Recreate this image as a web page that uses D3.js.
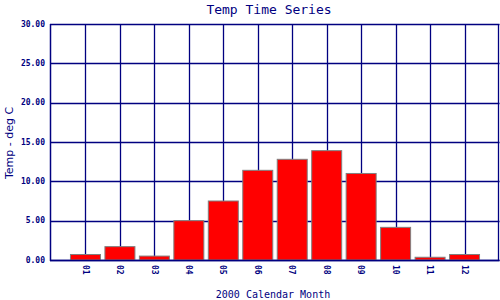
<!DOCTYPE html>
<html>
<head>
<meta charset="utf-8">
<script src="https://cdn.jsdelivr.net/npm/d3@7"></script>
<style>
  body { margin: 0; background: #fff; }
  svg { display: block; }
</style>
</head>
<body>
<div id="chart"></div>
<script>
const months = ["01", "02", "03", "04", "05", "06", "07", "08", "09", "10", "11", "12"];
const temps = [0.7, 1.7, 0.5, 5.0, 7.5, 11.4, 12.8, 13.9, 11.0, 4.15, 0.35, 0.7];
const yTicks = [0, 5, 10, 15, 20, 25, 30];

const width = 500;
const height = 300;
const navy = "#000080";

const svg = d3.select("#chart")
    .append("svg")
    .attr("width", width)
    .attr("height", height);

// x is linear over 0..13 so the months sit on 1..12
const x = d3.scaleLinear().domain([0, 13]).range([51, 499]);
const y = d3.scaleLinear().domain([0, 30]).range([260, 24]);
const barW = 30;

// horizontal grid
svg.append("g")
    .selectAll("line")
    .data(yTicks)
    .enter()
    .append("line")
    .attr("x1", 50)
    .attr("x2", 499.5)
    .attr("y1", d => Math.round(y(d)) + 0.5)
    .attr("y2", d => Math.round(y(d)) + 0.5)
    .attr("stroke", navy)
    .attr("stroke-width", 1.3);

// vertical grid at each month
svg.append("g")
    .selectAll("line")
    .data(months)
    .enter()
    .append("line")
    .attr("x1", (d, i) => Math.round(x(i + 1)) + 0.5)
    .attr("x2", (d, i) => Math.round(x(i + 1)) + 0.5)
    .attr("y1", y(30))
    .attr("y2", y(0))
    .attr("stroke", navy)
    .attr("stroke-width", 1.3);

// left and right frame lines
svg.append("line")
    .attr("x1", 50.5).attr("x2", 50.5)
    .attr("y1", y(30)).attr("y2", y(0) + 1)
    .attr("stroke", navy)
    .attr("stroke-width", 1.5);

svg.append("line")
    .attr("x1", 498.5).attr("x2", 498.5)
    .attr("y1", y(30)).attr("y2", y(0) + 1)
    .attr("stroke", navy)
    .attr("stroke-width", 1.3);

// bars
svg.append("g")
    .selectAll("rect")
    .data(temps)
    .enter()
    .append("rect")
    .attr("x", (d, i) => x(i + 1) - barW / 2)
    .attr("width", barW)
    .attr("y", d => y(d))
    .attr("height", d => y(0) - y(d))
    .attr("fill", "#ff0000")
    .attr("stroke", "#808080")
    .attr("stroke-width", 1);

// baseline on top of bars
svg.append("line")
    .attr("x1", 50).attr("x2", 499.5)
    .attr("y1", y(0) + 0.5).attr("y2", y(0) + 0.5)
    .attr("stroke", navy)
    .attr("stroke-width", 1.5);

// y tick labels
svg.append("g")
    .selectAll("text")
    .data(yTicks)
    .enter()
    .append("text")
    .attr("x", 45)
    .attr("y", d => y(d))
    .attr("dy", "0.35em")
    .attr("text-anchor", "end")
    .attr("font-family", "DejaVu Sans Mono, monospace")
    .attr("font-size", 8)
    .attr("font-weight", "bold")
    .attr("fill", navy)
    .text(d => d.toFixed(2));

// x tick labels, rotated to read downwards
svg.append("g")
    .selectAll("text")
    .data(months)
    .enter()
    .append("text")
    .attr("transform", (d, i) => `translate(${x(i + 1)},${y(0) + 5}) rotate(90)`)
    .attr("dy", "0.35em")
    .attr("text-anchor", "start")
    .attr("font-family", "DejaVu Sans Mono, monospace")
    .attr("font-size", 8)
    .attr("font-weight", "bold")
    .attr("fill", navy)
    .text(d => d);

// titles
svg.append("text")
    .attr("x", 269)
    .attr("y", 14)
    .attr("text-anchor", "middle")
    .attr("font-family", "DejaVu Sans Mono, monospace")
    .attr("font-size", 13)
    .attr("fill", navy)
    .text("Temp Time Series");

svg.append("text")
    .attr("x", 273)
    .attr("y", 298)
    .attr("text-anchor", "middle")
    .attr("font-family", "DejaVu Sans Mono, monospace")
    .attr("font-size", 10)
    .attr("fill", navy)
    .text("2000 Calendar Month");

svg.append("text")
    .attr("transform", "translate(13,143) rotate(-90)")
    .attr("text-anchor", "middle")
    .attr("font-family", "DejaVu Sans, sans-serif")
    .attr("font-size", 11)
    .attr("fill", navy)
    .text("Temp - deg C");
</script>
</body>
</html>
